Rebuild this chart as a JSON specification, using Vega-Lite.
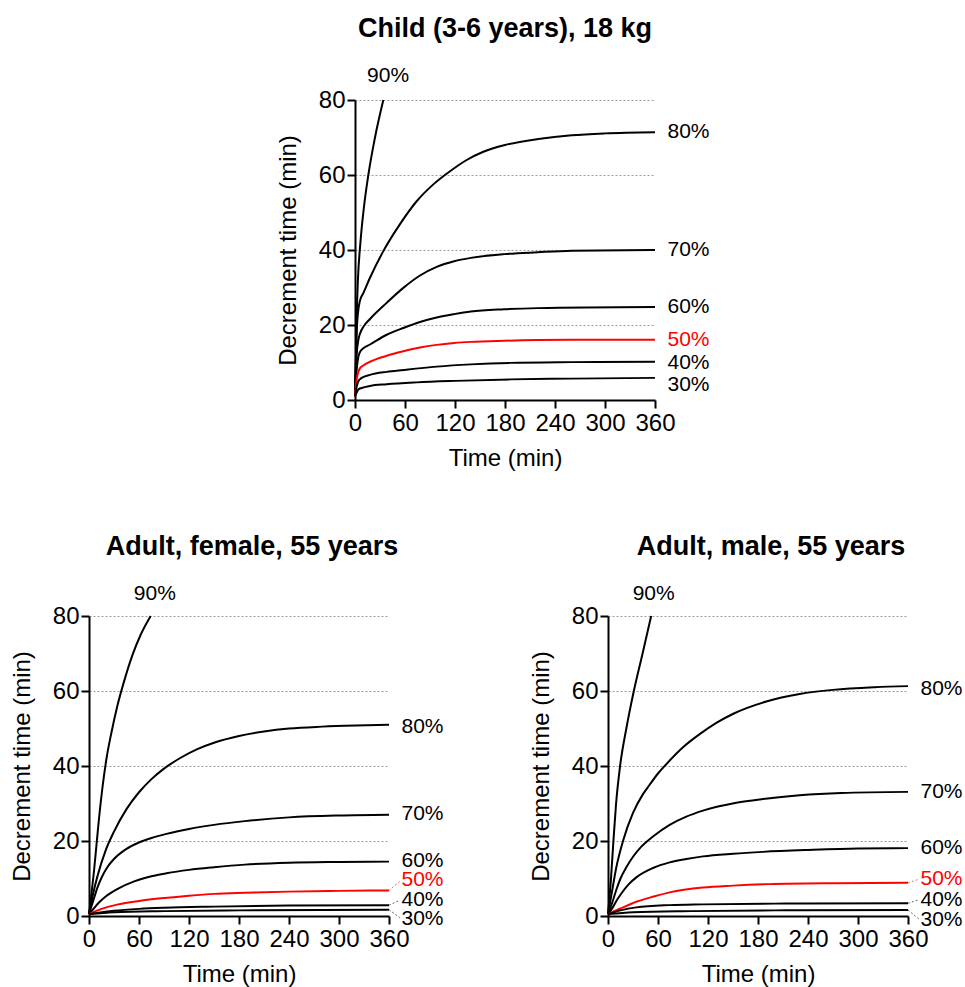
{
  "$schema": "https://vega.github.io/schema/vega-lite/v6.json",
  "background": "white",
  "padding": {"left": 10, "top": 14, "right": 5, "bottom": 5},
  "bounds": "flush",
  "spacing": 516,
  "config": {
    "view": {"stroke": null},
    "font": "Liberation Sans",
    "axis": {
      "domainColor": "#000", "domainWidth": 2, "tickColor": "#000", "tickWidth": 2,
      "labelFont": "Liberation Sans", "labelFontSize": 24, "labelColor": "#000",
      "titleFont": "Liberation Sans", "titleFontSize": 24, "titleFontWeight": "normal", "titleColor": "#000",
      "labelOverlap": false, "labelFlush": false
    }
  },
  "datasets": {
    "child": [
      {"s":"90%","t":0,"v":1},{"s":"90%","t":1,"v":10},{"s":"90%","t":2,"v":22},{"s":"90%","t":3.5,"v":32},{"s":"90%","t":6.5,"v":42},{"s":"90%","t":10.5,"v":51},{"s":"90%","t":16,"v":60},{"s":"90%","t":24,"v":70},{"s":"90%","t":34,"v":80},
      {"s":"80%","t":0,"v":1},{"s":"80%","t":1,"v":10},{"s":"80%","t":2,"v":18},{"s":"80%","t":4,"v":24},{"s":"80%","t":6,"v":26.5},{"s":"80%","t":10,"v":28.5},{"s":"80%","t":18,"v":32.6},{"s":"80%","t":34,"v":39.7},{"s":"80%","t":54,"v":46.9},{"s":"80%","t":74,"v":53},{"s":"80%","t":94,"v":57.5},{"s":"80%","t":114,"v":61},{"s":"80%","t":134,"v":64},{"s":"80%","t":154,"v":66.2},{"s":"80%","t":180,"v":68},{"s":"80%","t":220,"v":69.6},{"s":"80%","t":260,"v":70.6},{"s":"80%","t":300,"v":71.1},{"s":"80%","t":360,"v":71.4},
      {"s":"70%","t":0,"v":1},{"s":"70%","t":1,"v":7},{"s":"70%","t":2,"v":12},{"s":"70%","t":4,"v":16},{"s":"70%","t":6,"v":17.7},{"s":"70%","t":10,"v":19.5},{"s":"70%","t":18,"v":21.6},{"s":"70%","t":38,"v":25.9},{"s":"70%","t":58,"v":29.9},{"s":"70%","t":78,"v":33.2},{"s":"70%","t":98,"v":35.5},{"s":"70%","t":119,"v":37},{"s":"70%","t":139,"v":37.9},{"s":"70%","t":179,"v":38.9},{"s":"70%","t":219,"v":39.4},{"s":"70%","t":260,"v":39.8},{"s":"70%","t":360,"v":40},
      {"s":"60%","t":0,"v":1},{"s":"60%","t":1,"v":5},{"s":"60%","t":2,"v":8},{"s":"60%","t":4,"v":11.5},{"s":"60%","t":6,"v":12.8},{"s":"60%","t":10,"v":13.8},{"s":"60%","t":18,"v":14.8},{"s":"60%","t":38,"v":17.4},{"s":"60%","t":58,"v":19.2},{"s":"60%","t":78,"v":20.8},{"s":"60%","t":98,"v":22},{"s":"60%","t":119,"v":22.9},{"s":"60%","t":139,"v":23.6},{"s":"60%","t":179,"v":24.2},{"s":"60%","t":219,"v":24.5},{"s":"60%","t":360,"v":24.8},
      {"s":"50%","t":0,"v":1},{"s":"50%","t":1,"v":3.5},{"s":"50%","t":2,"v":5.5},{"s":"50%","t":4,"v":7.5},{"s":"50%","t":6,"v":8.5},{"s":"50%","t":10,"v":9.2},{"s":"50%","t":18,"v":10.2},{"s":"50%","t":38,"v":11.8},{"s":"50%","t":58,"v":13},{"s":"50%","t":78,"v":14},{"s":"50%","t":98,"v":14.7},{"s":"50%","t":119,"v":15.2},{"s":"50%","t":139,"v":15.5},{"s":"50%","t":179,"v":15.8},{"s":"50%","t":260,"v":16.05},{"s":"50%","t":360,"v":16.1},
      {"s":"40%","t":0,"v":1},{"s":"40%","t":2,"v":3.5},{"s":"40%","t":4,"v":5},{"s":"40%","t":8,"v":5.9},{"s":"40%","t":18,"v":6.7},{"s":"40%","t":38,"v":7.5},{"s":"40%","t":58,"v":8},{"s":"40%","t":98,"v":8.9},{"s":"40%","t":139,"v":9.5},{"s":"40%","t":186,"v":9.9},{"s":"40%","t":260,"v":10.1},{"s":"40%","t":360,"v":10.2},
      {"s":"30%","t":0,"v":1},{"s":"30%","t":2,"v":2},{"s":"30%","t":4,"v":2.8},{"s":"30%","t":8,"v":3.2},{"s":"30%","t":18,"v":3.75},{"s":"30%","t":38,"v":4.2},{"s":"30%","t":74,"v":4.7},{"s":"30%","t":120,"v":5.1},{"s":"30%","t":186,"v":5.5},{"s":"30%","t":260,"v":5.7},{"s":"30%","t":360,"v":5.9}
    ],
    "female": [
      {"s":"90%","t":0,"v":0.5},{"s":"90%","t":3,"v":6},{"s":"90%","t":6,"v":12},{"s":"90%","t":9,"v":19},{"s":"90%","t":12,"v":26},{"s":"90%","t":16,"v":34},{"s":"90%","t":21,"v":42},{"s":"90%","t":27,"v":49},{"s":"90%","t":34,"v":56},{"s":"90%","t":42,"v":62.5},{"s":"90%","t":52,"v":69.5},{"s":"90%","t":62,"v":75},{"s":"90%","t":74,"v":80},
      {"s":"80%","t":0,"v":0.5},{"s":"80%","t":5,"v":6},{"s":"80%","t":10,"v":10.5},{"s":"80%","t":20,"v":17.5},{"s":"80%","t":30,"v":22.5},{"s":"80%","t":45,"v":28.5},{"s":"80%","t":60,"v":33},{"s":"80%","t":75,"v":36.5},{"s":"80%","t":90,"v":39.3},{"s":"80%","t":110,"v":42.2},{"s":"80%","t":130,"v":44.5},{"s":"80%","t":150,"v":46.2},{"s":"80%","t":180,"v":48},{"s":"80%","t":210,"v":49.2},{"s":"80%","t":240,"v":50},{"s":"80%","t":280,"v":50.5},{"s":"80%","t":320,"v":50.8},{"s":"80%","t":360,"v":51},
      {"s":"70%","t":0,"v":0.5},{"s":"70%","t":5,"v":4},{"s":"70%","t":10,"v":7.5},{"s":"70%","t":15,"v":10.2},{"s":"70%","t":22,"v":13},{"s":"70%","t":30,"v":15.2},{"s":"70%","t":45,"v":17.9},{"s":"70%","t":60,"v":19.6},{"s":"70%","t":75,"v":20.8},{"s":"70%","t":93,"v":21.9},{"s":"70%","t":120,"v":23.2},{"s":"70%","t":150,"v":24.3},{"s":"70%","t":187,"v":25.3},{"s":"70%","t":240,"v":26.3},{"s":"70%","t":300,"v":26.8},{"s":"70%","t":360,"v":27},
      {"s":"60%","t":0,"v":0.5},{"s":"60%","t":5,"v":1.8},{"s":"60%","t":12,"v":3.6},{"s":"60%","t":20,"v":5.2},{"s":"60%","t":35,"v":7.3},{"s":"60%","t":55,"v":9.3},{"s":"60%","t":75,"v":10.6},{"s":"60%","t":93,"v":11.4},{"s":"60%","t":120,"v":12.3},{"s":"60%","t":150,"v":13},{"s":"60%","t":187,"v":13.7},{"s":"60%","t":240,"v":14.2},{"s":"60%","t":300,"v":14.4},{"s":"60%","t":360,"v":14.5},
      {"s":"50%","t":0,"v":0.5},{"s":"50%","t":15,"v":1.9},{"s":"50%","t":35,"v":3.1},{"s":"50%","t":60,"v":4},{"s":"50%","t":91,"v":4.8},{"s":"50%","t":120,"v":5.4},{"s":"50%","t":150,"v":5.9},{"s":"50%","t":187,"v":6.2},{"s":"50%","t":240,"v":6.5},{"s":"50%","t":300,"v":6.7},{"s":"50%","t":360,"v":6.8},
      {"s":"40%","t":0,"v":0.5},{"s":"40%","t":30,"v":1.4},{"s":"40%","t":60,"v":1.9},{"s":"40%","t":91,"v":2.2},{"s":"40%","t":150,"v":2.5},{"s":"40%","t":240,"v":2.8},{"s":"40%","t":360,"v":2.9},
      {"s":"30%","t":0,"v":0.5},{"s":"30%","t":30,"v":1},{"s":"30%","t":91,"v":1.3},{"s":"30%","t":180,"v":1.5},{"s":"30%","t":360,"v":1.7}
    ],
    "male": [
      {"s":"90%","t":0,"v":0.5},{"s":"90%","t":3.6,"v":10},{"s":"90%","t":6.5,"v":20},{"s":"90%","t":9.7,"v":30},{"s":"90%","t":14.5,"v":40},{"s":"90%","t":22,"v":50},{"s":"90%","t":31,"v":60},{"s":"90%","t":41.5,"v":70},{"s":"90%","t":51.8,"v":80},
      {"s":"80%","t":0,"v":0.5},{"s":"80%","t":4,"v":5.5},{"s":"80%","t":10,"v":13},{"s":"80%","t":18,"v":20},{"s":"80%","t":30,"v":27.5},{"s":"80%","t":42,"v":32.5},{"s":"80%","t":50,"v":35},{"s":"80%","t":60,"v":38},{"s":"80%","t":70,"v":40.5},{"s":"80%","t":90,"v":45},{"s":"80%","t":110,"v":48.5},{"s":"80%","t":130,"v":51.5},{"s":"80%","t":151,"v":54},{"s":"80%","t":190,"v":57.2},{"s":"80%","t":230,"v":59.2},{"s":"80%","t":270,"v":60.3},{"s":"80%","t":320,"v":61},{"s":"80%","t":360,"v":61.3},
      {"s":"70%","t":0,"v":0.5},{"s":"70%","t":5,"v":3.5},{"s":"70%","t":10,"v":7},{"s":"70%","t":15,"v":10},{"s":"70%","t":22,"v":13},{"s":"70%","t":30,"v":15.8},{"s":"70%","t":40,"v":18.5},{"s":"70%","t":54,"v":21.2},{"s":"70%","t":74,"v":24.3},{"s":"70%","t":94,"v":26.5},{"s":"70%","t":114,"v":28.1},{"s":"70%","t":154,"v":30.2},{"s":"70%","t":186,"v":31.2},{"s":"70%","t":230,"v":32.2},{"s":"70%","t":280,"v":32.8},{"s":"70%","t":360,"v":33.1},
      {"s":"60%","t":0,"v":0.5},{"s":"60%","t":5,"v":2},{"s":"60%","t":10,"v":4},{"s":"60%","t":16,"v":6},{"s":"60%","t":25,"v":8.5},{"s":"60%","t":34,"v":10.3},{"s":"60%","t":54,"v":12.8},{"s":"60%","t":74,"v":14.3},{"s":"60%","t":94,"v":15.2},{"s":"60%","t":114,"v":15.9},{"s":"60%","t":150,"v":16.6},{"s":"60%","t":186,"v":17.1},{"s":"60%","t":240,"v":17.6},{"s":"60%","t":300,"v":18},{"s":"60%","t":360,"v":18.1},
      {"s":"50%","t":0,"v":0.5},{"s":"50%","t":15,"v":2},{"s":"50%","t":34,"v":3.8},{"s":"50%","t":55,"v":5.2},{"s":"50%","t":74,"v":6.3},{"s":"50%","t":114,"v":7.6},{"s":"50%","t":150,"v":8.1},{"s":"50%","t":194,"v":8.5},{"s":"50%","t":274,"v":8.75},{"s":"50%","t":360,"v":8.85},
      {"s":"40%","t":0,"v":0.5},{"s":"40%","t":15,"v":1.5},{"s":"40%","t":34,"v":2.3},{"s":"40%","t":74,"v":2.9},{"s":"40%","t":114,"v":3.1},{"s":"40%","t":200,"v":3.3},{"s":"40%","t":360,"v":3.4},
      {"s":"30%","t":0,"v":0.5},{"s":"30%","t":30,"v":1},{"s":"30%","t":100,"v":1.3},{"s":"30%","t":200,"v":1.5},{"s":"30%","t":360,"v":1.6}
    ],
    "childLabels": [
      {"s":"90%","lx":14.5,"ly":86.5},{"s":"80%","lx":375,"ly":71.5},{"s":"70%","lx":375,"ly":39.9},{"s":"60%","lx":375,"ly":24.7},{"s":"50%","lx":375,"ly":15.9},{"s":"40%","lx":375,"ly":10},{"s":"30%","lx":375,"ly":4.1}
    ],
    "femaleLabels": [
      {"s":"90%","lx":53.8,"ly":86},{"s":"80%","lx":375,"ly":50.4},{"s":"70%","lx":375,"ly":27.1},{"s":"60%","lx":375,"ly":14.8},{"s":"50%","lx":375,"ly":9.5},{"s":"40%","lx":375,"ly":4.4},{"s":"30%","lx":375,"ly":-0.7}
    ],
    "maleLabels": [
      {"s":"90%","lx":29.6,"ly":86},{"s":"80%","lx":375,"ly":60.6},{"s":"70%","lx":375,"ly":33},{"s":"60%","lx":375,"ly":18.1},{"s":"50%","lx":375,"ly":9.9},{"s":"40%","lx":375,"ly":4.4},{"s":"30%","lx":375,"ly":-1}
    ],
    "femaleLeaders": [
      {"s":"50%","y1":6.8,"y2":9.3},{"s":"40%","y1":2.9,"y2":4.2},{"s":"30%","y1":1.7,"y2":-0.5}
    ],
    "maleLeaders": [
      {"s":"50%","y1":8.85,"y2":9.8},{"s":"40%","y1":3.4,"y2":4.3},{"s":"30%","y1":1.6,"y2":-0.8}
    ]
  },
  "vconcat": [
    {
      "bounds": "flush",
      "spacing": 16,
      "hconcat": [
        {"width": 250, "height": 300, "data": {"values": [{"a": 0}]}, "mark": {"type": "point", "opacity": 0}, "encoding": {}},
        {
          "width": 300, "height": 300,
          "title": {"text": "Child (3-6 years), 18 kg", "font": "Liberation Sans", "fontSize": 27, "fontWeight": "bold", "color": "#000", "frame": "group", "anchor": "middle", "offset": 22},
          "layer": [
            {
              "data": {"name": "child"},
              "mark": {"type": "line", "interpolate": "monotone", "strokeWidth": 2},
              "encoding": {
                "x": {"field": "t", "type": "quantitative", "scale": {"domain": [0, 360], "nice": false},
                  "axis": {"title": "Time (min)", "values": [0,30,60,90,120,150,180,210,240,270,300,330,360], "labelExpr": "datum.value % 60 === 0 ? datum.label : ''", "tickSize": {"condition": {"test": "datum.value % 60 === 0", "value": 8}, "value": 5}, "grid": false, "labelPadding": 3, "titlePadding": 11}},
                "y": {"field": "v", "type": "quantitative", "scale": {"domain": [0, 80], "nice": false},
                  "axis": {"title": "Decrement time (min)", "values": [0,10,20,30,40,50,60,70,80], "labelExpr": "datum.value % 20 === 0 ? datum.label : ''", "tickSize": {"condition": {"test": "datum.value % 20 === 0", "value": 8}, "value": 5}, "grid": true, "gridDash": [2, 2], "gridWidth": 1, "gridColor": {"condition": {"test": "datum.value % 20 === 0", "value": "#9a9a9a"}, "value": "#d0d0d0"}, "labelPadding": 2, "titlePadding": 18}},
                "color": {"field": "s", "type": "nominal", "scale": {"domain": ["30%","40%","50%","60%","70%","80%","90%"], "range": ["#000000","#000000","#ff0000","#000000","#000000","#000000","#000000"]}, "legend": null}
              }
            },
            {
              "data": {"name": "childLabels"},
              "mark": {"type": "text", "align": "left", "baseline": "middle", "fontSize": 21, "font": "Liberation Sans"},
              "encoding": {
                "x": {"field": "lx", "type": "quantitative"},
                "y": {"field": "ly", "type": "quantitative"},
                "text": {"field": "s"},
                "color": {"field": "s", "type": "nominal", "legend": null}
              }
            }
          ]
        }
      ]
    },
    {
      "bounds": "flush",
      "spacing": 219,
      "hconcat": [
        {
          "width": 300, "height": 300,
          "title": {"text": "Adult, female, 55 years", "font": "Liberation Sans", "fontSize": 27, "fontWeight": "bold", "color": "#000", "frame": "group", "anchor": "middle", "offset": 22, "dx": 13},
          "layer": [
            {
              "data": {"name": "female"},
              "mark": {"type": "line", "interpolate": "monotone", "strokeWidth": 2},
              "encoding": {
                "x": {"field": "t", "type": "quantitative", "scale": {"domain": [0, 360], "nice": false},
                  "axis": {"title": "Time (min)", "values": [0,30,60,90,120,150,180,210,240,270,300,330,360], "labelExpr": "datum.value % 60 === 0 ? datum.label : ''", "tickSize": {"condition": {"test": "datum.value % 60 === 0", "value": 8}, "value": 5}, "grid": false, "labelPadding": 3, "titlePadding": 11}},
                "y": {"field": "v", "type": "quantitative", "scale": {"domain": [0, 80], "nice": false},
                  "axis": {"title": "Decrement time (min)", "values": [0,10,20,30,40,50,60,70,80], "labelExpr": "datum.value % 20 === 0 ? datum.label : ''", "tickSize": {"condition": {"test": "datum.value % 20 === 0", "value": 8}, "value": 5}, "grid": true, "gridDash": [2, 2], "gridWidth": 1, "gridColor": {"condition": {"test": "datum.value % 20 === 0", "value": "#9a9a9a"}, "value": "#d0d0d0"}, "labelPadding": 2, "titlePadding": 18}},
                "color": {"field": "s", "type": "nominal", "scale": {"domain": ["30%","40%","50%","60%","70%","80%","90%"], "range": ["#000000","#000000","#ff0000","#000000","#000000","#000000","#000000"]}, "legend": null}
              }
            },
            {
              "data": {"name": "femaleLeaders"},
              "mark": {"type": "rule", "strokeDash": [2, 2], "strokeWidth": 1, "opacity": 0.6},
              "encoding": {
                "x": {"datum": 360, "type": "quantitative"},
                "x2": {"datum": 373},
                "y": {"field": "y1", "type": "quantitative"},
                "y2": {"field": "y2"},
                "color": {"field": "s", "type": "nominal", "legend": null}
              }
            },
            {
              "data": {"name": "femaleLabels"},
              "mark": {"type": "text", "align": "left", "baseline": "middle", "fontSize": 21, "font": "Liberation Sans"},
              "encoding": {
                "x": {"field": "lx", "type": "quantitative"},
                "y": {"field": "ly", "type": "quantitative"},
                "text": {"field": "s"},
                "color": {"field": "s", "type": "nominal", "legend": null}
              }
            }
          ]
        },
        {
          "width": 300, "height": 300,
          "title": {"text": "Adult, male, 55 years", "font": "Liberation Sans", "fontSize": 27, "fontWeight": "bold", "color": "#000", "frame": "group", "anchor": "middle", "offset": 22, "dx": 13},
          "layer": [
            {
              "data": {"name": "male"},
              "mark": {"type": "line", "interpolate": "monotone", "strokeWidth": 2},
              "encoding": {
                "x": {"field": "t", "type": "quantitative", "scale": {"domain": [0, 360], "nice": false},
                  "axis": {"title": "Time (min)", "values": [0,30,60,90,120,150,180,210,240,270,300,330,360], "labelExpr": "datum.value % 60 === 0 ? datum.label : ''", "tickSize": {"condition": {"test": "datum.value % 60 === 0", "value": 8}, "value": 5}, "grid": false, "labelPadding": 3, "titlePadding": 11}},
                "y": {"field": "v", "type": "quantitative", "scale": {"domain": [0, 80], "nice": false},
                  "axis": {"title": "Decrement time (min)", "values": [0,10,20,30,40,50,60,70,80], "labelExpr": "datum.value % 20 === 0 ? datum.label : ''", "tickSize": {"condition": {"test": "datum.value % 20 === 0", "value": 8}, "value": 5}, "grid": true, "gridDash": [2, 2], "gridWidth": 1, "gridColor": {"condition": {"test": "datum.value % 20 === 0", "value": "#9a9a9a"}, "value": "#d0d0d0"}, "labelPadding": 2, "titlePadding": 18}},
                "color": {"field": "s", "type": "nominal", "scale": {"domain": ["30%","40%","50%","60%","70%","80%","90%"], "range": ["#000000","#000000","#ff0000","#000000","#000000","#000000","#000000"]}, "legend": null}
              }
            },
            {
              "data": {"name": "maleLeaders"},
              "mark": {"type": "rule", "strokeDash": [2, 2], "strokeWidth": 1, "opacity": 0.6},
              "encoding": {
                "x": {"datum": 360, "type": "quantitative"},
                "x2": {"datum": 373},
                "y": {"field": "y1", "type": "quantitative"},
                "y2": {"field": "y2"},
                "color": {"field": "s", "type": "nominal", "legend": null}
              }
            },
            {
              "data": {"name": "maleLabels"},
              "mark": {"type": "text", "align": "left", "baseline": "middle", "fontSize": 21, "font": "Liberation Sans"},
              "encoding": {
                "x": {"field": "lx", "type": "quantitative"},
                "y": {"field": "ly", "type": "quantitative"},
                "text": {"field": "s"},
                "color": {"field": "s", "type": "nominal", "legend": null}
              }
            }
          ]
        }
      ]
    }
  ]
}
